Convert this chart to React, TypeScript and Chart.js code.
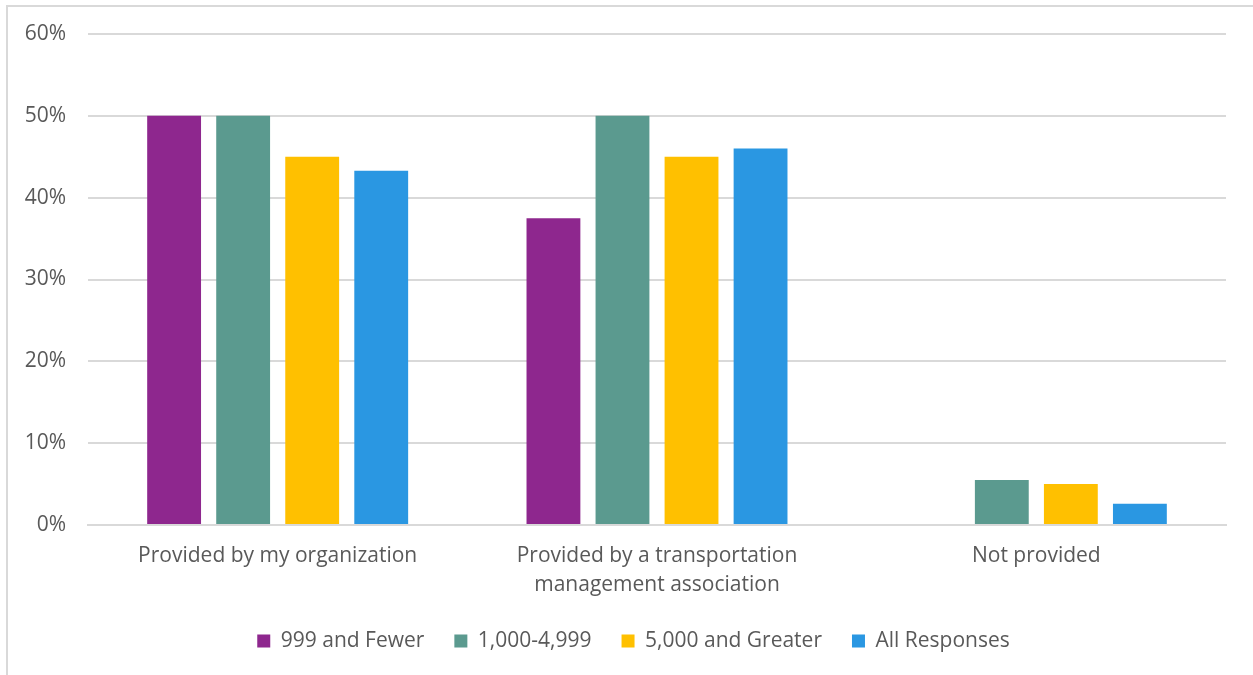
import React, { useEffect, useRef } from "react";
import { Chart, registerables } from "chart.js";

Chart.register(...registerables);

const categories: (string | string[])[] = [
  "Provided by my organization",
  ["Provided by a transportation", "management association"],
  "Not provided",
];

const seriesNames = ["999 and Fewer", "1,000-4,999", "5,000 and Greater", "All Responses"];
const seriesColors = ["#8E278E", "#5B9A8F", "#FFC000", "#2A97E2"];

const fewer999 = [50, 37.5, 0];
const mid1000to4999 = [50, 50, 5.5];
const greater5000 = [45, 45, 5];
const allResponses = [43.3, 46, 2.6];

const yTicks = [0, 10, 20, 30, 40, 50, 60];

const seriesValues = [fewer999, mid1000to4999, greater5000, allResponses];

const FONT = "'Open Sans', 'Noto Sans', sans-serif";
const TEXT = "#595959";
const FONT_SIZE = 21;

// Nudges the legend block after layout so it is centred on the whole frame
// rather than on the padded area.
const legendNudge = {
  id: "legendNudge",
  afterLayout(chart: any) {
    const l = chart.legend;
    if (!l) return;
    l.top -= 0.5;
    l.bottom -= 0.5;
    l.left += 16.5;
    l.right += 16.5;
  },
};

export default function App() {
  const canvasRef = useRef<HTMLCanvasElement | null>(null);

  useEffect(() => {
    if (!canvasRef.current) return;
    const chart = new Chart(canvasRef.current, {
      type: "bar",
      data: {
        labels: categories,
        datasets: seriesNames.map((name, i) => ({
          label: name,
          data: seriesValues[i],
          backgroundColor: seriesColors[i],
          borderWidth: 0,
          categoryPercentage: 0.728,
          barPercentage: 0.78,
        })),
      },
      plugins: [legendNudge],
      options: {
        animation: false,
        responsive: false,
        maintainAspectRatio: false,
        layout: { padding: { top: 27, right: 27, bottom: 13, left: 0 } },
        plugins: {
          tooltip: { enabled: false },
          legend: {
            position: "bottom",
            labels: {
              color: TEXT,
              font: { family: FONT, size: FONT_SIZE },
              boxWidth: 13,
              boxHeight: 13,
              padding: 30,
            },
          },
        },
        scales: {
          x: {
            grid: { display: false, drawTicks: false },
            border: { display: true, color: "#D9D9D9", width: 2 },
            ticks: {
              color: TEXT,
              font: { family: FONT, size: FONT_SIZE, lineHeight: 1.38 },
              padding: 16.5,
              maxRotation: 0,
              autoSkip: false,
            },
            afterFit: (scale: any) => {
              scale.height = 76;
              scale.paddingLeft = 0;
              scale.paddingRight = 0;
            },
          },
          y: {
            min: 0,
            max: 60,
            afterBuildTicks: (scale: any) => {
              scale.ticks = yTicks.map((v) => ({ value: v }));
            },
            grid: { color: "#D9D9D9", lineWidth: 2, drawTicks: false },
            border: { display: false },
            ticks: {
              color: TEXT,
              font: { family: FONT, size: FONT_SIZE },
              padding: 22,
              callback: (v: any) => `${v}%`,
            },
            afterFit: (scale: any) => {
              scale.width = 80;
              scale.paddingTop = 0;
              scale.paddingBottom = 0;
            },
          },
        },
      },
    });
    return () => chart.destroy();
  }, []);

  return (
    <div
      style={{
        position: "absolute",
        left: 6,
        top: 5,
        width: 1260,
        height: 690,
        border: "2px solid #D9D9D9",
        background: "#fff",
        boxSizing: "border-box",
      }}
    >
      <canvas
        ref={canvasRef}
        width={1245}
        height={668}
        style={{ display: "block", position: "absolute", left: 0, top: 0 }}
      />
    </div>
  );
}
